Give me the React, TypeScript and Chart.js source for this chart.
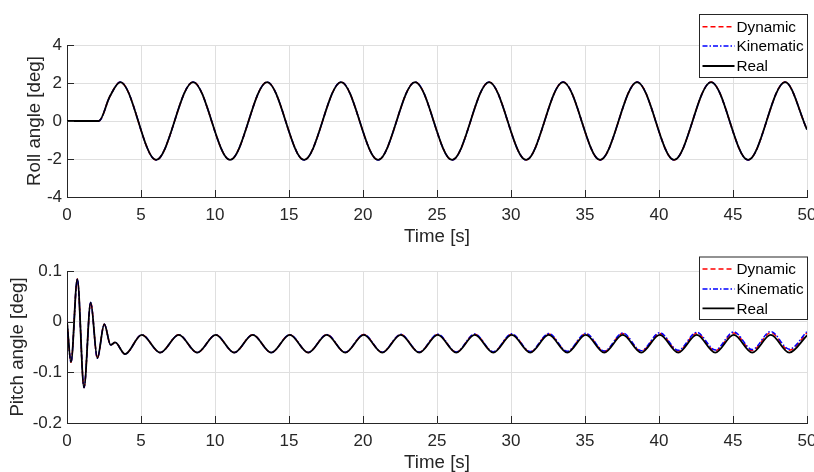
import React, { useEffect, useRef } from "react";
import { Chart, registerables } from "chart.js";

Chart.register(...registerables);

// ---------- data ----------
const rollTime = [0, 2.15, 2.9, 3.6, 6.02, 8.52, 11.02, 13.52, 16.02, 18.52, 21.02, 23.52, 26.02, 28.52, 31.02, 33.52, 36.02, 38.52, 41.02, 43.52, 46.02, 48.52, 50];
const rollReal = [0, 0, 1.3, 2.05, -2.05, 2.05, -2.05, 2.05, -2.05, 2.05, -2.05, 2.05, -2.05, 2.05, -2.05, 2.05, -2.05, 2.05, -2.05, 2.05, -2.05, 2.05, -0.45];
const rollDynamic = [0, 0, 1.3, 2.05, -2.05, 2.05, -2.05, 2.05, -2.05, 2.05, -2.05, 2.05, -2.05, 2.05, -2.05, 2.05, -2.05, 2.05, -2.05, 2.05, -2.05, 2.05, -0.45];
const rollKinematic = [0, 0, 1.3, 2.05, -2.05, 2.05, -2.05, 2.05, -2.05, 2.05, -2.05, 2.05, -2.05, 2.05, -2.05, 2.05, -2.05, 2.05, -2.05, 2.05, -2.05, 2.05, -0.45];

const pitchTime = [0, 0.27, 0.7, 1.15, 1.6, 2.05, 2.52, 2.95, 3.25, 3.92, 5.05, 6.3, 7.55, 8.8, 10.05, 11.3, 12.55, 13.8, 15.05, 16.3, 17.55, 18.8, 20.05, 21.3, 22.55, 23.8, 25.05, 26.3, 27.55, 28.8, 30.05, 31.3, 32.55, 33.8, 35.05, 36.3, 37.55, 38.8, 40.05, 41.3, 42.55, 43.8, 45.05, 46.3, 47.55, 48.8, 50];
const pitchReal = [0, -0.08, 0.084, -0.13, 0.038, -0.072, -0.005, -0.046, -0.041, -0.064, -0.026, -0.061, -0.026, -0.061, -0.026, -0.061, -0.026, -0.061, -0.026, -0.061, -0.026, -0.061, -0.026, -0.061, -0.026, -0.061, -0.026, -0.061, -0.026, -0.061, -0.026, -0.061, -0.026, -0.061, -0.026, -0.061, -0.026, -0.061, -0.026, -0.061, -0.026, -0.061, -0.026, -0.061, -0.026, -0.061, -0.027];
const pitchDynamic = [0, -0.08, 0.084, -0.13, 0.038, -0.072, -0.005, -0.046, -0.041, -0.064, -0.026, -0.061, -0.026, -0.061, -0.026, -0.061, -0.026, -0.061, -0.0258, -0.0608, -0.0257, -0.0607, -0.0255, -0.0605, -0.0253, -0.0603, -0.0252, -0.0602, -0.025, -0.06, -0.0247, -0.0597, -0.0244, -0.0594, -0.024, -0.059, -0.0236, -0.0586, -0.0232, -0.0581, -0.0228, -0.0576, -0.0222, -0.0571, -0.0217, -0.0566, -0.022];
const pitchKinematic = [0, -0.08, 0.084, -0.13, 0.038, -0.072, -0.005, -0.046, -0.041, -0.064, -0.026, -0.061, -0.026, -0.061, -0.026, -0.061, -0.026, -0.061, -0.0257, -0.0607, -0.0255, -0.0605, -0.0252, -0.0602, -0.025, -0.06, -0.0247, -0.0597, -0.0244, -0.0594, -0.024, -0.059, -0.0235, -0.0585, -0.023, -0.0578, -0.0224, -0.0572, -0.0217, -0.0565, -0.021, -0.0557, -0.0202, -0.055, -0.0194, -0.0542, -0.0195];

const timeTicks = [0, 5, 10, 15, 20, 25, 30, 35, 40, 45, 50];
const rollTicks = [-4, -2, 0, 2, 4];
const pitchTicks = [-0.2, -0.1, 0, 0.1];
const seriesLabels = ["Dynamic", "Kinematic", "Real"];

// ---------- style ----------
const FONT = "'Liberation Sans', Arial, Helvetica, sans-serif";
const AX = "#262626";
const GRID = "#dfdfdf";

type LegendBox = { x: number; y: number; w: number; h: number; rows: number[] };

function zip(t: number[], v: number[]) {
  return t.map((x, i) => ({ x, y: v[i] }));
}

function makeChart(
  canvas: HTMLCanvasElement,
  opts: {
    time: number[];
    real: number[];
    dyn: number[];
    kin: number[];
    yMin: number;
    yMax: number;
    yTicks: number[];
    yTitle: string;
    yTitlePad: number;
    padTop: number;
    xHeight: number;
    xTitlePad: number;
    legend: LegendBox;
    fmt: (v: number) => string;
  }
) {
  const legendPlugin = {
    id: "customLegendTicks",
    afterDraw(chart: any) {
      const ctx = chart.ctx as CanvasRenderingContext2D;
      const xs = chart.scales.x;
      const ys = chart.scales.y;
      const area = chart.chartArea;
      ctx.save();
      // inward tick marks
      ctx.strokeStyle = AX;
      ctx.lineWidth = 1;
      ctx.beginPath();
      for (const v of timeTicks) {
        const px = Math.round(xs.getPixelForValue(v)) + 0.5;
        ctx.moveTo(px, area.bottom);
        ctx.lineTo(px, area.bottom - 7);
      }
      for (const v of opts.yTicks) {
        const py = Math.round(ys.getPixelForValue(v)) + 0.5;
        ctx.moveTo(area.left, py);
        ctx.lineTo(area.left + 7, py);
      }
      ctx.stroke();

      // legend
      const b = opts.legend;
      ctx.fillStyle = "#ffffff";
      ctx.fillRect(b.x, b.y, b.w, b.h);
      ctx.strokeStyle = AX;
      ctx.lineWidth = 1;
      ctx.strokeRect(b.x + 0.5, b.y + 0.5, b.w, b.h);
      const styles = [
        { color: "#ff0000", dash: [5, 3], width: 1.5 },
        { color: "#0000ff", dash: [5, 2, 1.5, 2], width: 1.5 },
        { color: "#000000", dash: [] as number[], width: 1.8 },
      ];
      ctx.font = `15.3px ${FONT}`;
      ctx.textBaseline = "middle";
      ctx.textAlign = "left";
      seriesLabels.forEach((lab, i) => {
        const y = b.rows[i];
        const st = styles[i];
        ctx.strokeStyle = st.color;
        ctx.lineWidth = st.width;
        ctx.setLineDash(st.dash);
        ctx.beginPath();
        ctx.moveTo(b.x + 3.5, y);
        ctx.lineTo(b.x + 35.5, y);
        ctx.stroke();
        ctx.setLineDash([]);
        ctx.fillStyle = "#000000";
        ctx.fillText(lab, b.x + 37.5, y + 1);
      });
      ctx.restore();
    },
  };

  return new Chart(canvas, {
    type: "line",
    data: {
      datasets: [
        {
          label: "Real",
          data: zip(opts.time, opts.real),
          borderColor: "#000000",
          borderWidth: 1.8,
          pointRadius: 0,
          cubicInterpolationMode: "monotone",
          fill: false,
        },
        {
          label: "Kinematic",
          data: zip(opts.time, opts.kin),
          borderColor: "#0000ff",
          borderWidth: 1.5,
          borderDash: [5, 2, 1.5, 2],
          pointRadius: 0,
          cubicInterpolationMode: "monotone",
          fill: false,
        },
        {
          label: "Dynamic",
          data: zip(opts.time, opts.dyn),
          borderColor: "#ff0000",
          borderWidth: 1.5,
          borderDash: [5, 3],
          pointRadius: 0,
          cubicInterpolationMode: "monotone",
          fill: false,
        },
      ],
    },
    options: {
      responsive: false,
      animation: false,
      devicePixelRatio: 1,
      layout: { padding: { top: opts.padTop, right: 7, bottom: 0, left: 0 } },
      plugins: { legend: { display: false }, tooltip: { enabled: false } },
      scales: {
        x: {
          type: "linear",
          min: 0,
          max: 50,
          afterBuildTicks: (s: any) => {
            s.ticks = timeTicks.map((v) => ({ value: v }));
          },
          afterFit: (s: any) => {
            s.height = opts.xHeight;
            s.paddingLeft = 0;
            s.paddingRight = 0;
          },
          grid: { color: GRID, lineWidth: 1, drawTicks: false },
          border: { display: true, color: AX, width: 1 },
          ticks: {
            autoSkip: false,
            maxRotation: 0,
            padding: 8,
            color: AX,
            font: { family: FONT, size: 17 },
            callback: (v: any) => String(v),
          },
          title: {
            display: true,
            text: "Time [s]",
            color: AX,
            font: { family: FONT, size: 18.7, lineHeight: 1 },
            padding: { top: 0, bottom: opts.xTitlePad },
          },
        },
        y: {
          type: "linear",
          min: opts.yMin,
          max: opts.yMax,
          afterBuildTicks: (s: any) => {
            s.ticks = opts.yTicks.map((v) => ({ value: v }));
          },
          afterFit: (s: any) => {
            s.width = 67;
            s.paddingTop = 0;
            s.paddingBottom = 0;
          },
          grid: { color: GRID, lineWidth: 1, drawTicks: false },
          border: { display: true, color: AX, width: 1 },
          ticks: {
            padding: 5,
            color: AX,
            font: { family: FONT, size: 17 },
            callback: (v: any) => opts.fmt(Number(v)),
          },
          title: {
            display: true,
            text: opts.yTitle,
            color: AX,
            font: { family: FONT, size: 18.7, lineHeight: 1 },
            padding: { top: opts.yTitlePad, bottom: 0 },
          },
        },
      },
    },
    plugins: [legendPlugin],
  } as any);
}

export default function App() {
  const topRef = useRef<HTMLCanvasElement | null>(null);
  const botRef = useRef<HTMLCanvasElement | null>(null);

  useEffect(() => {
    const c1 = makeChart(topRef.current!, {
      time: rollTime,
      real: rollReal,
      dyn: rollDynamic,
      kin: rollKinematic,
      yMin: -4,
      yMax: 4,
      yTicks: rollTicks,
      yTitle: "Roll angle [deg]",
      yTitlePad: 25.6,
      padTop: 45,
      xHeight: 53,
      xTitlePad: 3.6,
      legend: { x: 699, y: 14, w: 108, h: 63, rows: [26.7, 46, 66] },
      fmt: (v) => String(Math.round(v)),
    });
    const c2 = makeChart(botRef.current!, {
      time: pitchTime,
      real: pitchReal,
      dyn: pitchDynamic,
      kin: pitchKinematic,
      yMin: -0.2,
      yMax: 0.1,
      yTicks: pitchTicks,
      yTitle: "Pitch angle [deg]",
      yTitlePad: 8.6,
      padTop: 21,
      xHeight: 49,
      xTitlePad: 0,
      legend: { x: 699, y: 6.5, w: 108, h: 62.5, rows: [19, 39, 58.3] },
      fmt: (v) => {
        const r = Math.round(v * 10) / 10;
        return r === 0 ? "0" : String(r);
      },
    });
    return () => {
      c1.destroy();
      c2.destroy();
    };
  }, []);

  return (
    <div style={{ position: "absolute", left: 0, top: 0, width: 814, height: 472, background: "#ffffff" }}>
      <canvas ref={topRef} width={814} height={250} style={{ position: "absolute", left: 0, top: 0, width: 814, height: 250 }} />
      <canvas ref={botRef} width={814} height={222} style={{ position: "absolute", left: 0, top: 250, width: 814, height: 222 }} />
    </div>
  );
}
